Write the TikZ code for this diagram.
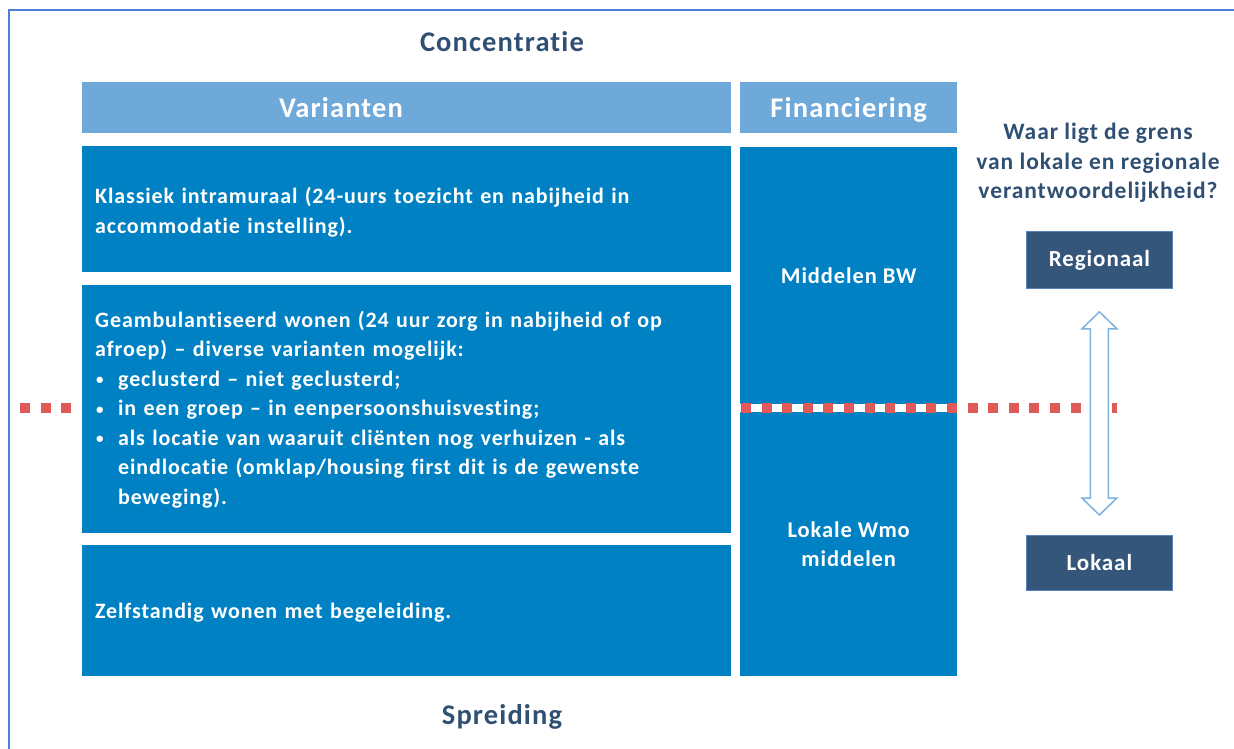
\documentclass[tikz,border=0pt]{standalone}
\usepackage{fontspec}
\setmainfont{Carlito}[Ligatures={NoCommon,NoContextual},LetterSpace=4]
\usetikzlibrary{calc}
\definecolor{framec}{HTML}{4F7FD6}
\definecolor{headc}{HTML}{6FA9DA}
\definecolor{boxc}{HTML}{0081C3}
\definecolor{titlec}{HTML}{2F5072}
\definecolor{darkc}{HTML}{34567A}
\definecolor{darkedge}{HTML}{5A80C0}
\definecolor{dotc}{HTML}{E05A5A}
\definecolor{arrc}{HTML}{7DB1E0}
\newcommand\mybul{\makebox[23pt][l]{\hspace{1pt}\raisebox{1.5pt}{\fontsize{15}{15}\selectfont •}}}
\newcommand\myind{\hspace*{23pt}}
\begin{document}
\begin{tikzpicture}[x=1pt,y=-1pt,
  titletext/.style={text=titlec, font=\bfseries\fontsize{28.5}{32}\selectfont, inner sep=0pt},
  headbox/.style={fill=headc, anchor=north west, inner sep=0pt, minimum height=51pt},
  headtext/.style={text=white, inner sep=0pt, text height=19pt, text depth=5pt, font=\bfseries\fontsize{28.5}{32}\selectfont},
  varbox/.style={fill=boxc, text=white, anchor=north west, inner xsep=13pt, inner ysep=0pt, align=left, text width=623pt, minimum width=649pt, font=\bfseries\fontsize{22}{29.5}\selectfont},
  finbox/.style={fill=boxc, text=white, anchor=north west, inner sep=0pt, minimum width=217pt, align=center, font=\bfseries\fontsize{22.5}{29.5}\selectfont},
  levelbox/.style={fill=darkc, draw=darkedge, line width=0.8pt, text=white, anchor=north west, inner sep=0pt, minimum width=146pt, font=\bfseries\fontsize{23}{26}\selectfont},
  questiontext/.style={text=titlec, align=center, inner sep=0pt, font=\bfseries\fontsize{23.5}{29.5}\selectfont},
  reddots/.style={draw=dotc, line width=10pt, dash pattern=on 10pt off 10.6pt},
  hollowarrow/.style={draw=arrc, line width=1.5pt, fill=white, line join=miter},
  framestyle/.style={draw=framec, line width=1.6pt}
]
\useasboundingbox (0,0) rectangle (1234,749);

% frame
\coordinate (fbl) at (9,752);
\coordinate (ftl) at (9,10);
\coordinate (ftr) at (1237,10);
\draw[framestyle] (fbl) -- (ftl) -- (ftr);

% titles
\node[titletext] (conc) at (502,42) {Concentratie};
\node[titletext] (spr) at (502,717) {Spreiding};

% headers
\node[headbox, minimum width=649pt] (hvar) at (82,82) {};
\node[headtext] (hvart) at ($(hvar.west)+(259,2.5)$) {Varianten};
\node[headbox, minimum width=217pt] (hfin) at (740,82) {};
\node[headtext] (hfint) at ($(hfin.center)+(0,2.5)$) {Financiering};

% financing boxes
\node[finbox, minimum height=257pt] (fin1) at (740,147) {Middelen BW};
\node[finbox, minimum height=264pt] (fin2) at (740,412) {Lokale Wmo\\middelen};

% red dotted line
\coordinate (dl) at (20,408);
\coordinate (dr) at (1117,408);
\draw[reddots] (dl) -- (dr);

% variant boxes
\node[varbox, minimum height=126pt] (v1) at (82,146) {\rule{0pt}{22pt}Klassiek intramuraal (24-uurs toezicht en nabijheid in\\accommodatie instelling).};
\node[varbox, minimum height=248pt] (v2) at (82,285) {Geambulantiseerd wonen (24 uur zorg in nabijheid of op\\afroep) – diverse varianten mogelijk:\\
\mybul geclusterd – niet geclusterd;\\
\mybul in een groep – in eenpersoonshuisvesting;\\
\mybul als locatie van waaruit cliënten nog verhuizen - als\\
\myind eindlocatie (omklap/housing first dit is de gewenste\\
\myind beweging).};
\node[varbox, minimum height=131pt] (v3) at (82,545) {\rule{0pt}{20pt}Zelfstandig wonen met begeleiding.};

% right side
\node[questiontext] (q) at (1098,163) {Waar ligt de grens\\van lokale en regionale\\verantwoordelijkheid?};
\node[levelbox, minimum height=57pt] (reg) at (1026,231) {Regionaal};
\node[levelbox, minimum height=55pt] (lok) at (1026,535) {Lokaal};

% double arrow
\path (reg.south) ++(0,23) coordinate (at);
\path (lok.north) ++(0,-20) coordinate (ab);
\draw[hollowarrow] (at) -- ++(17.5,17) -- ++(-8.5,0) -- ($(ab)+(9,-17)$) -- ++(8.5,0) -- (ab) -- ++(-17.5,-17) -- ++(8.5,0) -- ($(at)+(-9,17)$) -- ++(-8.5,0) -- cycle;
\end{tikzpicture}
\end{document}
